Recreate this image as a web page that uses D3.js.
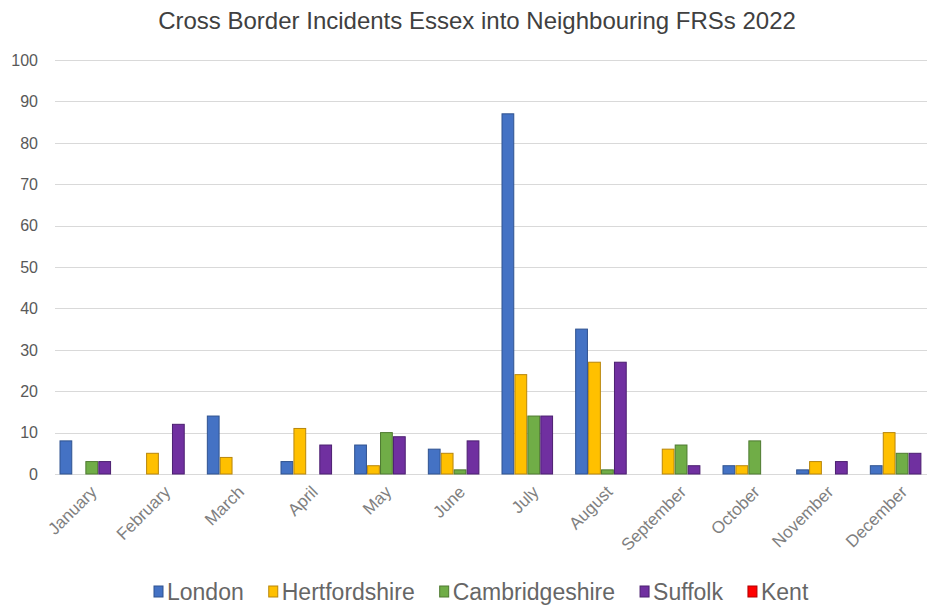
<!DOCTYPE html>
<html>
<head>
<meta charset="utf-8">
<script src="https://cdn.jsdelivr.net/npm/d3@7"></script>
<style>
  html, body { margin: 0; padding: 0; background: #fff; }
  svg { display: block; font-family: "Liberation Sans", Arial, sans-serif; }
</style>
</head>
<body>
<svg id="chart" width="927" height="608"></svg>
<script>
const title = "Cross Border Incidents Essex into Neighbouring FRSs 2022";
const months = ["January","February","March","April","May","June","July","August","September","October","November","December"];
const seriesNames = ["London","Hertfordshire","Cambridgeshire","Suffolk","Kent"];
const london         = [8, 0, 14, 3, 7, 6, 87, 35, 0, 2, 1, 2];
const hertfordshire  = [0, 5, 4, 11, 2, 5, 24, 27, 6, 2, 3, 10];
const cambridgeshire = [3, 0, 0, 0, 10, 1, 14, 1, 7, 8, 0, 5];
const suffolk        = [3, 12, 0, 7, 9, 8, 14, 27, 2, 0, 3, 5];
const kent           = [0, 0, 0, 0, 0, 0, 0, 0, 0, 0, 0, 0];
const yTicks = [0,10,20,30,40,50,60,70,80,90,100];

const fills   = ["#4472C4","#FFC000","#70AD47","#7030A0","#FF0000"];
const strokes = ["#2F528F","#B8860B","#4E7A30","#4B1F70","#B00000"];

const seriesValues = [london, hertfordshire, cambridgeshire, suffolk, kent];

const svg = d3.select("#chart");
const plotLeft = 55, plotRight = 939, y0 = 474, y100 = 60;

const x0 = d3.scaleBand().domain(months).range([plotLeft, plotRight]).padding(0);
const x1 = d3.scaleBand().domain(seriesNames).range([5, 68.5]).paddingInner(0.09).paddingOuter(0);
const y = d3.scaleLinear().domain([0, 100]).range([y0, y100]);

// gridlines
svg.append("g").selectAll("line").data(yTicks).join("line")
  .attr("x1", plotLeft).attr("x2", plotRight)
  .attr("y1", d => Math.round(y(d)) + 0.5).attr("y2", d => Math.round(y(d)) + 0.5)
  .attr("stroke", "#d9d9d9").attr("stroke-width", 1.2);

// y labels
svg.append("g").selectAll("text").data(yTicks).join("text")
  .attr("x", 38).attr("y", d => y(d))
  .attr("dy", "0.36em")
  .attr("text-anchor", "end")
  .attr("font-size", 16)
  .attr("fill", "#595959")
  .text(d => d);

// bars
const groups = svg.append("g").selectAll("g").data(months).join("g")
  .attr("transform", d => `translate(${x0(d)},0)`);
groups.selectAll("rect")
  .data((m, i) => seriesNames.map((s, j) => ({s, j, v: seriesValues[j][i]})).filter(d => d.v > 0))
  .join("rect")
  .attr("x", d => x1(d.s))
  .attr("width", x1.bandwidth())
  .attr("y", d => y(d.v))
  .attr("height", d => y0 - y(d.v))
  .attr("fill", d => fills[d.j])
  .attr("stroke", d => strokes[d.j])
  .attr("stroke-width", 1);

// x labels
svg.append("g").selectAll("text").data(months).join("text")
  .attr("transform", d => `translate(${x0(d) + x0.bandwidth()/2 + 6},${493}) rotate(-45)`)
  .attr("text-anchor", "end")
  .attr("font-size", 17)
  .attr("fill", "#7f7f7f")
  .text(d => d);

// title
svg.append("text")
  .attr("x", 477).attr("y", 29)
  .attr("text-anchor", "middle")
  .attr("font-size", 24)
  .attr("fill", "#404040")
  .text(title);

// legend
const legend = svg.append("g");
let cx = 154;
seriesNames.forEach((s, j) => {
  legend.append("rect").attr("x", cx).attr("y", 586).attr("width", 9).attr("height", 11)
    .attr("fill", fills[j]).attr("stroke", strokes[j]).attr("stroke-width", 1);
  const t = legend.append("text").attr("x", cx + 13).attr("y", 600)
    .attr("font-size", 23).attr("fill", "#666666").text(s);
  cx = cx + 13 + t.node().getComputedTextLength() + 25;
});
</script>
</body>
</html>
